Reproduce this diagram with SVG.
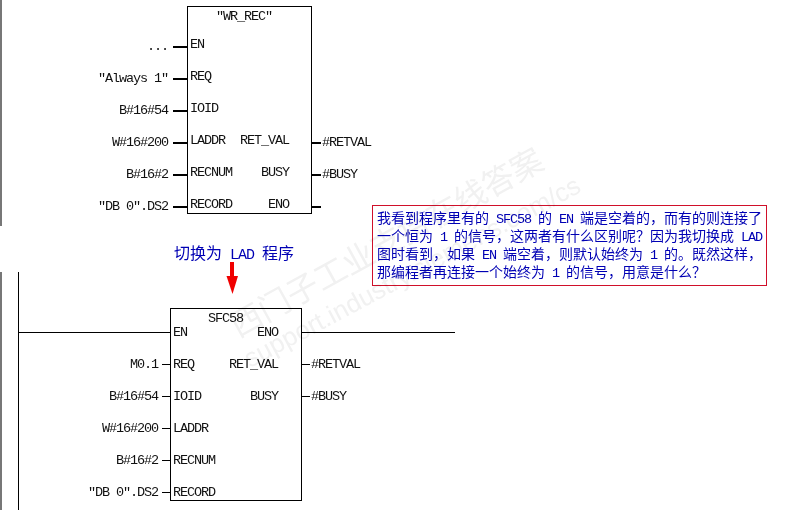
<svg xmlns="http://www.w3.org/2000/svg" width="800" height="510" viewBox="0 0 800 510">
<style>
text{font-family:"Liberation Mono","Noto Sans CJK SC",monospace;font-size:13.500px;letter-spacing:-1.100px;fill:#111}
.e{text-anchor:end}
.c{fill:#0000b4;font-size:14px;letter-spacing:0;font-family:"Noto Sans CJK SC","Liberation Mono",sans-serif}
.c tspan{font-family:"Liberation Mono",monospace;font-size:13.500px;letter-spacing:-1.100px}
.h{font-size:16px}.h tspan{font-size:15px;letter-spacing:-1px}
.box{fill:#fff;stroke:#000;stroke-width:1}
.w{stroke:#000;stroke-width:2;fill:none}
.n{stroke:#000;stroke-width:1;fill:none}
.wm{fill:#f1f1f1;font-family:"Noto Sans CJK SC",sans-serif;font-size:32px;letter-spacing:0}
.wm2{fill:#f1f1f1;font-family:"Liberation Sans",sans-serif;font-size:26px;letter-spacing:0}
</style>
<rect width="800" height="510" fill="#fff"/>
<g id="rails">
<path d="M1 0V226M1 272V510" stroke="#777" stroke-width="2" fill="none"/>
<path class="n" d="M18.500 272V510"/>
</g>
<g id="connectors">
<path class="w" d="M173 47H187M173 79H187M173 111H187M173 143H187M173 175H187M173 207H187M312 143H321M312 175H321M312 207H321"/>
<path class="n" d="M18 332.500H170M302 332.500H455M162 364.500H170M162 396.500H170M162 428.500H170M162 460.500H170M162 492.500H170M302 364.500H310M302 396.500H310"/>
<path d="M232 262V279" stroke="#f00000" stroke-width="4" fill="none"/>
<path d="M226.500 276H238L232.500 294Z" fill="#f00000"/>
</g>
<g id="wr_rec">
<rect class="box" x="187.500" y="6.500" width="124" height="207"/>
<text x="216" y="20">"WR_REC"</text>
<text x="190" y="48">EN</text><text x="190" y="80">REQ</text><text x="190" y="112">IOID</text><text x="190" y="144">LADDR</text><text x="190" y="176">RECNUM</text><text x="190" y="208">RECORD</text>
<text class="e" x="289" y="144">RET_VAL</text><text class="e" x="289" y="176">BUSY</text><text class="e" x="289" y="208">ENO</text>
<text class="e" x="168" y="50">...</text><text class="e" x="168" y="82">"Always 1"</text><text class="e" x="168" y="114">B#16#54</text><text class="e" x="168" y="146">W#16#200</text><text class="e" x="168" y="178">B#16#2</text><text class="e" x="168" y="210">"DB 0".DS2</text>
<text x="322" y="146">#RETVAL</text><text x="322" y="178">#BUSY</text>
</g>
<g id="sfc58">
<rect class="box" x="170.500" y="308.500" width="131" height="192"/>
<text x="208" y="322">SFC58</text>
<text x="173" y="336">EN</text><text x="173" y="368">REQ</text><text x="173" y="400">IOID</text><text x="173" y="432">LADDR</text><text x="173" y="464">RECNUM</text><text x="173" y="496">RECORD</text>
<text class="e" x="278" y="336">ENO</text><text class="e" x="278" y="368">RET_VAL</text><text class="e" x="278" y="400">BUSY</text>
<text class="e" x="158" y="368">M0.1</text><text class="e" x="158" y="400">B#16#54</text><text class="e" x="158" y="432">W#16#200</text><text class="e" x="158" y="464">B#16#2</text><text class="e" x="158" y="496">"DB 0".DS2</text>
<text x="311" y="368">#RETVAL</text><text x="311" y="400">#BUSY</text>
</g>
<g id="switch-label">
<text class="c h" x="174" y="259">切换为<tspan> LAD </tspan>程序</text>
</g>
<g id="note">
<rect x="372.500" y="205.500" width="394" height="80" fill="#fff" stroke="#d0102a" stroke-width="1"/>
<text class="c" x="377" y="223">我看到程序里有的<tspan> SFC58 </tspan>的<tspan> EN </tspan>端是空着的，而有的则连接了</text>
<text class="c" x="377" y="241">一个恒为<tspan> 1 </tspan>的信号，这两者有什么区别呢？因为我切换成<tspan> LAD</tspan></text>
<text class="c" x="377" y="259">图时看到，如果<tspan> EN </tspan>端空着，则默认始终为<tspan> 1 </tspan>的。既然这样，</text>
<text class="c" x="377" y="277">那编程者再连接一个始终为<tspan> 1 </tspan>的信号，用意是什么？</text>
</g>
<g id="watermark" style="mix-blend-mode:multiply">
<text class="wm" transform="translate(238,338) rotate(-29)">西门子工业支持在线答案</text>
<text class="wm2" transform="translate(250,368) rotate(-28)">support.industry.siemens.com/cs</text>
</g>
</svg>
